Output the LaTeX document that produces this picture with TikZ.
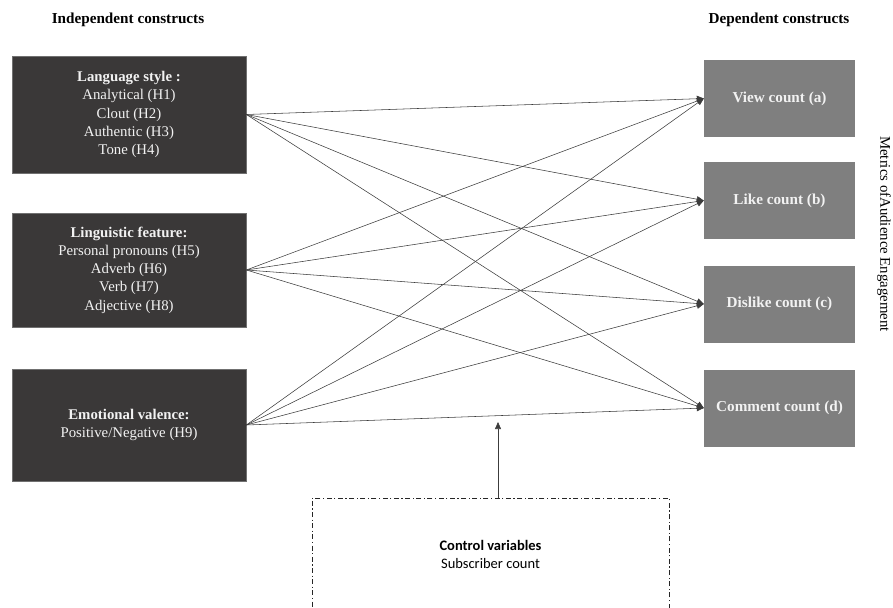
\documentclass[tikz,border=0pt]{standalone}
\usepackage{fontspec}
\setmainfont{Liberation Serif}
\newfontfamily\calfont{Carlito}
\usetikzlibrary{arrows.meta}
\definecolor{darkbox}{HTML}{3A3838}
\definecolor{darkedge}{HTML}{707070}
\definecolor{greybox}{HTML}{7F7F7F}
\definecolor{boxtext}{HTML}{F2F2F2}
\definecolor{linkcol}{HTML}{3C3C3C}
\tikzset{
  indep/.style={draw=darkedge, line width=0.7pt, fill=darkbox, text=boxtext,
    minimum width=234pt, inner sep=0pt, align=center,
    font=\fontsize{14.8}{18.3}\selectfont},
  dep/.style={fill=greybox, text=boxtext, minimum width=151pt,
    minimum height=77pt, inner sep=0pt, align=center,
    font=\fontsize{15.2}{17}\selectfont\bfseries},
  header/.style={font=\fontsize{15.2}{17}\selectfont\bfseries, inner sep=0pt},
  link/.style={draw=linkcol, line width=0.55pt,
    -{Triangle[length=7pt,width=6pt]}},
  ctrlbox/.style={draw=black!85, line width=0.7pt,
    dash pattern=on 5pt off 2.5pt on 1.2pt off 2.5pt,
    minimum width=357pt, minimum height=112pt, inner sep=0pt, align=center,
    font=\calfont\fontsize{14.5}{18}\selectfont}
}
\begin{document}
\begin{tikzpicture}[x=1pt, y=-1pt]
\useasboundingbox (0,0) rectangle (893,607);
\clip (0,0) rectangle (893,607);

% column headers
\node[header] (hind) at (128,20) {Independent constructs};
\node[header] (hdep) at (779,20) {Dependent constructs};

% independent constructs
\node[indep, minimum height=117pt] (lang) at (129,114.5)
  {\textbf{Language style :}\\Analytical (H1)\\Clout (H2)\\Authentic (H3)\\Tone (H4)};
\node[indep, minimum height=114pt] (ling) at (129,270)
  {\textbf{Linguistic feature:}\\Personal pronouns (H5)\\Adverb (H6)\\Verb (H7)\\Adjective (H8)};
\node[indep, minimum height=112pt] (emo) at (129,425)
  {\textbf{Emotional valence:}\\Positive/Negative (H9)};

% dependent constructs
\node[dep] (view) at (779.5,98.5) {View count (a)};
\node[dep] (like) at (779.5,200.5) {Like count (b)};
\node[dep] (dislike) at (779.5,304) {Dislike count (c)};
\node[dep] (comment) at (779.5,408) {Comment count (d)};

% side label
\node[rotate=-90, font=\fontsize{14.8}{17}\selectfont, inner sep=0pt] (metrics)
  at (884,234) {Metrics ofAudience Engagement};

% every independent construct points to every engagement metric
\foreach \s in {lang,ling,emo}
  \foreach \t in {view,like,dislike,comment}
    \draw[link] (\s.east) -- (\t.west);

% control variables
\node[ctrlbox] (ctrl) at (490.5,554)
  {\textbf{Control variables}\\Subscriber count};
\coordinate (ctrltip) at (498,422);
\draw[link] (ctrl.north -| ctrltip) -- (ctrltip);
\end{tikzpicture}
\end{document}
